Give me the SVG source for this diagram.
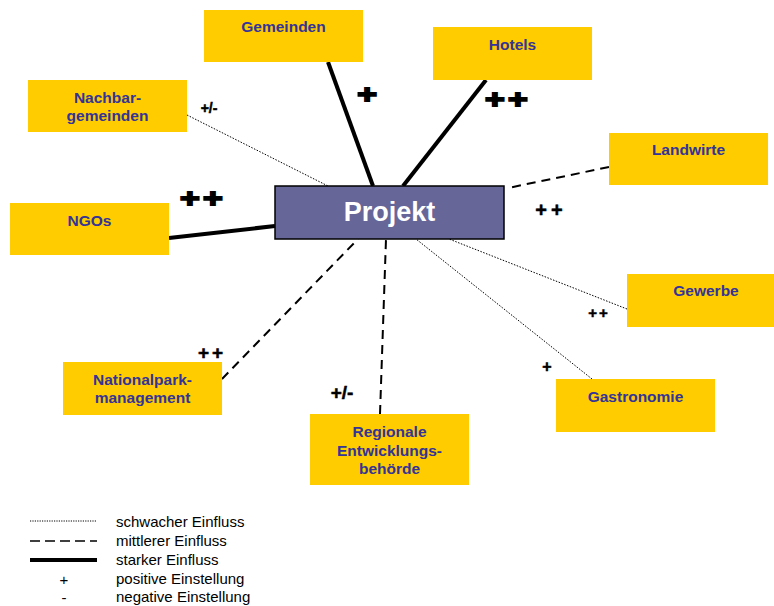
<svg xmlns="http://www.w3.org/2000/svg" width="774" height="606" viewBox="0 0 774 606">
<style>
.box{fill:#FFCC00}
.lbl{font-family:"Liberation Sans",Arial,sans-serif;font-weight:bold;font-size:15.5px;fill:#333399;text-anchor:middle}
.strong{stroke:#000;stroke-width:4;fill:none}
.mid{stroke:#000;stroke-width:2;stroke-dasharray:9,6;fill:none}
.weak{stroke:#000;stroke-width:1;stroke-dasharray:1.5,1.5;fill:none}
.sign{font-family:"Liberation Sans",Arial,sans-serif;font-weight:bold;fill:#000;stroke:#000;stroke-width:0.5;text-anchor:middle}
.heavy{font-family:"Liberation Sans",Arial,sans-serif;font-weight:bold;font-size:26px;fill:#000;stroke:#000;stroke-width:1.8;text-anchor:middle}
.leg{font-family:"Liberation Sans",Arial,sans-serif;font-size:15px;fill:#000}
</style>
<rect width="774" height="606" fill="#fff"/>
<g id="connectors">
<line class="strong" x1="328" y1="62" x2="373" y2="186"/>
<line class="strong" x1="486" y1="80" x2="403" y2="186"/>
<line class="strong" x1="169" y1="238" x2="275" y2="226"/>
<line class="weak" x1="187" y1="115" x2="328" y2="186"/>
<line class="mid" x1="609" y1="167" x2="508" y2="188"/>
<line class="weak" x1="627" y1="309" x2="449" y2="239"/>
<line class="weak" x1="592" y1="379" x2="416" y2="239"/>
<line class="mid" x1="222" y1="379" x2="358" y2="239"/>
<line class="mid" x1="380" y1="414" x2="386" y2="239"/>
</g>
<g id="gemeinden"><rect class="box" x="204" y="10" width="159" height="52"/><text class="lbl" x="283.5" y="32">Gemeinden</text></g>
<g id="nachbargemeinden"><rect class="box" x="28" y="80" width="159" height="52"/><text class="lbl" x="107.5" y="103">Nachbar-</text><text class="lbl" x="107.5" y="121">gemeinden</text></g>
<g id="ngos"><rect class="box" x="10" y="203" width="159" height="52"/><text class="lbl" x="89.5" y="226">NGOs</text></g>
<g id="hotels"><rect class="box" x="433" y="27" width="159" height="53"/><text class="lbl" x="512.5" y="50">Hotels</text></g>
<g id="landwirte"><rect class="box" x="609" y="133" width="159" height="52"/><text class="lbl" x="688.5" y="155">Landwirte</text></g>
<g id="projekt"><rect x="275" y="186" width="229" height="53" fill="#666699" stroke="#000" stroke-width="1.5"/><text x="389.5" y="221" font-family="Liberation Sans,Arial,sans-serif" font-weight="bold" font-size="27" fill="#fff" text-anchor="middle">Projekt</text></g>
<g id="gewerbe"><rect class="box" x="627" y="274" width="147" height="53"/><text class="lbl" x="706" y="296">Gewerbe</text></g>
<g id="gastronomie"><rect class="box" x="556" y="379" width="159" height="53"/><text class="lbl" x="635.5" y="402">Gastronomie</text></g>
<g id="nationalpark"><rect class="box" x="63" y="362" width="159" height="53"/><text class="lbl" x="142.5" y="385">Nationalpark-</text><text class="lbl" x="142.5" y="403">management</text></g>
<g id="regionale"><rect class="box" x="310" y="414" width="159" height="71"/><text class="lbl" x="389.5" y="437">Regionale</text><text class="lbl" x="389.5" y="456">Entwicklungs-</text><text class="lbl" x="389.5" y="474">behörde</text></g>
<g id="signs">
<text class="heavy" transform="translate(367,103) scale(1.3,1)">+</text>
<text class="heavy" transform="translate(508,108) scale(1.3,1)" letter-spacing="2.5">++</text>
<text class="sign" x="209" y="113" font-size="14">+/-</text>
<text class="heavy" transform="translate(203,207) scale(1.3,1)" letter-spacing="2.5">++</text>
<text class="sign" x="551" y="217" font-size="20" letter-spacing="4">++</text>
<text class="sign" x="599" y="318" font-size="15" letter-spacing="2">++</text>
<text class="sign" x="547" y="372" font-size="16">+</text>
<text class="sign" x="212" y="359" font-size="19" letter-spacing="3">++</text>
<text class="sign" x="342" y="399" font-size="19">+/-</text>
</g>
<g id="legend">
<line x1="30" y1="521" x2="97" y2="521" stroke="#000" stroke-width="1" stroke-dasharray="1.2,1.2"/>
<line x1="30" y1="541" x2="97" y2="541" stroke="#000" stroke-width="1.5" stroke-dasharray="10,5"/>
<line x1="30" y1="560" x2="97" y2="560" stroke="#000" stroke-width="4"/>
<text class="leg" x="64" y="585" text-anchor="middle">+</text>
<text class="leg" x="64" y="603" text-anchor="middle">-</text>
<text class="leg" x="116" y="527">schwacher Einfluss</text>
<text class="leg" x="116" y="546">mittlerer Einfluss</text>
<text class="leg" x="116" y="565">starker Einfluss</text>
<text class="leg" x="116" y="584">positive Einstellung</text>
<text class="leg" x="116" y="602">negative Einstellung</text>
</g>
</svg>
